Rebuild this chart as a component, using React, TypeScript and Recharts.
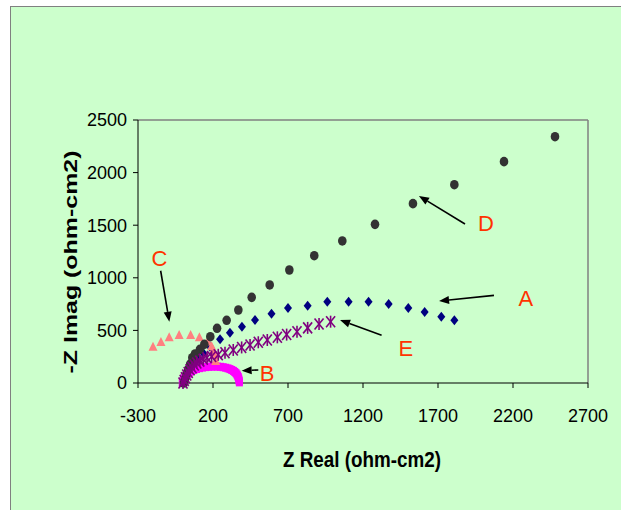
import React from 'react';
import { ScatterChart, Scatter, XAxis, YAxis, ReferenceLine, ReferenceDot } from 'recharts';

const FONT = '"Liberation Sans", Arial, sans-serif';

const X_TICKS = [-300, 200, 700, 1200, 1700, 2200, 2700];
const Y_TICKS = [0, 500, 1000, 1500, 2000, 2500];

const SERIES_A: [number, number][] = [
  [10, 20], [25, 70], [45, 120], [70, 170], [100, 230], [135, 285], [180, 345],
  [247, 415], [313, 478], [393, 535], [480, 598], [590, 658], [700, 712], [831, 735],
  [962, 773], [1104, 773], [1237, 773], [1371, 751], [1502, 713], [1611, 675],
  [1722, 630], [1809, 596],
];

const SERIES_B: [number, number][] = [
  [-5, 0], [0, 18], [5, 36], [12, 54], [20, 70], [30, 85], [42, 99], [56, 112],
  [72, 123], [90, 133], [110, 141], [130, 147], [150, 151], [170, 154], [190, 156],
  [210, 157], [230, 156], [250, 154], [268, 150], [285, 145], [300, 139], [313, 132],
  [325, 124], [336, 115], [345, 105], [353, 94], [359, 82], [364, 70], [368, 57],
  [371, 44], [373, 31], [375, 18], [376, 6],
];

const SERIES_C: [number, number][] = [
  [-200, 345], [-147, 390], [-92, 435], [-26, 456], [51, 456], [109, 434],
  [165, 395], [191, 350], [202, 314], [213, 266], [218, 210],
];

const SERIES_D: [number, number][] = [
  [5, 0], [13, 30], [22, 80], [35, 130], [48, 180], [62, 240], [80, 276],
  [113, 320], [142, 368], [182, 440], [227, 520], [291, 596], [369, 694],
  [458, 814], [578, 932], [709, 1074], [875, 1210], [1062, 1350], [1280, 1508],
  [1533, 1705], [1809, 1885], [2140, 2104], [2480, 2341],
];

const SERIES_E: [number, number][] = [
  [0, 0], [8, 25], [16, 50], [25, 75], [35, 100], [47, 125], [60, 148], [75, 170],
  [92, 190], [112, 208], [135, 225], [160, 240], [191, 252], [235, 268], [280, 288],
  [335, 314], [391, 338], [447, 361], [502, 387], [562, 409], [629, 434], [691, 460],
  [760, 488], [831, 524], [907, 561], [984, 583],
];

const ARROW_NAMES = ['A', 'B', 'C', 'D', 'E'];
const ARROW_FROM: [number, number][] = [[2073, 833], [502, 124], [-149, 1067], [1880, 1511], [1324, 453]];
const ARROW_TO: [number, number][] = [[1707, 779], [391, 117], [-91, 583], [1573, 1778], [1047, 599]];
const LABEL_AT: [number, number][] = [[2285, 805], [560, 92], [-157, 1186], [2020, 1518], [1485, 328]];

const toPoints = (arr: [number, number][]) => arr.map(([x, y]) => ({ x, y }));

const Diamond = (p: any) => {
  const { cx, cy } = p;
  return <polygon points={`${cx},${cy - 5} ${cx + 4},${cy} ${cx},${cy + 5} ${cx - 4},${cy}`} fill="#000080" />;
};
const Dot = (p: any) => <ellipse cx={p.cx} cy={p.cy} rx={4.3} ry={4.8} fill="#333333" />;
const Square = (p: any) => <rect x={p.cx - 3.5} y={p.cy - 4} width={7} height={8} fill="#FF00FF" />;
const Triangle = (p: any) => {
  const { cx, cy } = p;
  return <polygon points={`${cx},${cy - 5} ${cx + 4.5},${cy + 4} ${cx - 4.5},${cy + 4}`} fill="#FF8080" />;
};
const Star = (p: any) => {
  const { cx, cy } = p;
  return (
    <g stroke="#800080" strokeWidth={1.6}>
      <line x1={cx - 4.5} y1={cy - 5.5} x2={cx + 4.5} y2={cy + 5.5} />
      <line x1={cx - 4.5} y1={cy + 5.5} x2={cx + 4.5} y2={cy - 5.5} />
      <line x1={cx} y1={cy - 6} x2={cx} y2={cy + 6} />
    </g>
  );
};

const ArrowShape = (p: any) => {
  const { x1, y1, x2, y2 } = p;
  const dx = x2 - x1;
  const dy = y2 - y1;
  const len = Math.sqrt(dx * dx + dy * dy) || 1;
  const ux = dx / len;
  const uy = dy / len;
  const hl = 10;
  const hw = 4;
  const bx = x2 - ux * hl;
  const by = y2 - uy * hl;
  return (
    <g>
      <line x1={x1} y1={y1} x2={bx} y2={by} stroke="#000" strokeWidth={1.6} />
      <polygon
        points={`${x2},${y2} ${bx - uy * hw},${by + ux * hw} ${bx + uy * hw},${by - ux * hw}`}
        fill="#000"
      />
    </g>
  );
};

const renderXTitle = (props: any) => {
  const vb = props.viewBox;
  return (
    <text
      x={vb.x + vb.width / 2 - 1}
      y={vb.y + 84}
      textAnchor="middle"
      fontFamily={FONT}
      fontWeight="bold"
      fontSize={22}
      fill="#000"
      textLength={158}
      lengthAdjust="spacingAndGlyphs"
    >
      Z Real (ohm-cm2)
    </text>
  );
};

const renderYTitle = (props: any) => {
  const vb = props.viewBox;
  const x = vb.x + 18.5;
  const y = vb.y + vb.height / 2 + 10.5;
  return (
    <text
      x={x}
      y={y}
      transform={`rotate(-90, ${x}, ${y})`}
      textAnchor="middle"
      fontFamily={FONT}
      fontWeight="bold"
      fontSize={18}
      fill="#000"
      textLength={223}
      lengthAdjust="spacingAndGlyphs"
    >
      -Z Imag (ohm-cm2)
    </text>
  );
};

export default function App() {
  const tickStyle = { fill: '#000', fontSize: 18, fontFamily: FONT };
  return (
    <div style={{ position: 'absolute', left: 0, top: 0, width: 621, height: 510, background: '#fff', overflow: 'hidden' }}>
      <div
        style={{
          position: 'absolute',
          left: 10,
          top: 6,
          width: 630,
          height: 520,
          background: '#CCFFCC',
          border: '1px solid #808080',
        }}
      />
      <div style={{ position: 'absolute', left: 0, top: 0 }}>
        <ScatterChart width={621} height={510} margin={{ top: 120, right: 33, left: 58, bottom: 27 }}>
          <XAxis
            type="number"
            dataKey="x"
            domain={[-300, 2700]}
            ticks={X_TICKS}
            interval={0}
            height={100}
            tickSize={5}
            tickMargin={21}
            axisLine={{ stroke: '#000', strokeWidth: 1 }}
            tickLine={{ stroke: '#000' }}
            tick={tickStyle}
            label={renderXTitle}
          />
          <YAxis
            type="number"
            dataKey="y"
            domain={[0, 2500]}
            ticks={Y_TICKS}
            interval={0}
            width={80}
            tickSize={5}
            tickMargin={6}
            axisLine={{ stroke: '#000', strokeWidth: 1 }}
            tickLine={{ stroke: '#000' }}
            tick={tickStyle}
            label={renderYTitle}
          />
          <ReferenceLine y={2500} stroke="#808080" strokeWidth={1.5} />
          <ReferenceLine x={2700} stroke="#808080" strokeWidth={1.5} />
          <Scatter name="A" data={toPoints(SERIES_A)} shape={Diamond} isAnimationActive={false} />
          <Scatter name="B" data={toPoints(SERIES_B)} shape={Square} isAnimationActive={false} />
          <Scatter name="C" data={toPoints(SERIES_C)} shape={Triangle} isAnimationActive={false} />
          <Scatter name="D" data={toPoints(SERIES_D)} shape={Dot} isAnimationActive={false} />
          <Scatter name="E" data={toPoints(SERIES_E)} shape={Star} isAnimationActive={false} />
          {ARROW_NAMES.map((n, i) => (
            <ReferenceLine
              key={`arrow-${n}`}
              segment={[
                { x: ARROW_FROM[i][0], y: ARROW_FROM[i][1] },
                { x: ARROW_TO[i][0], y: ARROW_TO[i][1] },
              ]}
              stroke="#000"
              shape={ArrowShape}
            />
          ))}
          {ARROW_NAMES.map((n, i) => (
            <ReferenceDot
              key={`label-${n}`}
              x={LABEL_AT[i][0]}
              y={LABEL_AT[i][1]}
              r={0}
              fill="none"
              stroke="none"
              label={{ value: n, position: 'center', fill: '#FF3300', fontSize: 22, fontFamily: FONT }}
            />
          ))}
        </ScatterChart>
      </div>
    </div>
  );
}
